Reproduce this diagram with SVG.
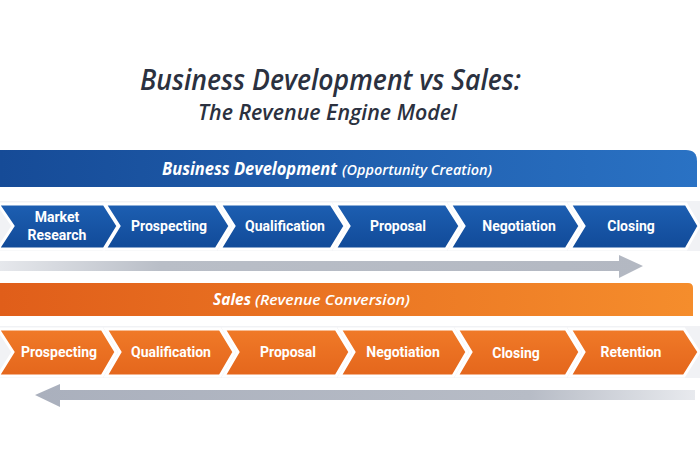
<svg xmlns="http://www.w3.org/2000/svg" width="700" height="450" viewBox="0 0 700 450">
<defs>
<linearGradient id="blueBar" x1="0" y1="0" x2="1" y2="0"><stop offset="0" stop-color="#164b97"/><stop offset="1" stop-color="#2a72c4"/></linearGradient>
<linearGradient id="orangeBar" x1="0" y1="0" x2="1" y2="0"><stop offset="0" stop-color="#e05e1a"/><stop offset="1" stop-color="#f58d2c"/></linearGradient>
<linearGradient id="blueChev" x1="0" y1="0" x2="0" y2="1"><stop offset="0" stop-color="#1d5fb2"/><stop offset="1" stop-color="#114a98"/></linearGradient>
<linearGradient id="orangeChev" x1="0" y1="0" x2="0" y2="1"><stop offset="0" stop-color="#f07a28"/><stop offset="1" stop-color="#e4661c"/></linearGradient>
<linearGradient id="grayR" x1="0" y1="0" x2="1" y2="0"><stop offset="0" stop-color="#e6e8ec"/><stop offset="0.25" stop-color="#b9bec7"/><stop offset="1" stop-color="#b3b8c2"/></linearGradient>
<linearGradient id="grayL" x1="0" y1="0" x2="1" y2="0"><stop offset="0" stop-color="#aab0bd"/><stop offset="0.75" stop-color="#b7bcc6"/><stop offset="1" stop-color="#e8eaee"/></linearGradient>
</defs>
<style>
.title{font-family:"Open Sans","Liberation Sans",sans-serif;font-style:italic;fill:#2b3140}
.hdr{font-family:"Open Sans","Liberation Sans",sans-serif;font-style:italic;fill:#ffffff}
.lbl{font-family:Roboto,"Liberation Sans",sans-serif;font-weight:bold;font-size:14px;fill:#ffffff;text-anchor:middle}
.blue{fill:url(#blueChev);stroke:#ffffff;stroke-width:3;stroke-linejoin:miter}
.orange{fill:url(#orangeChev);stroke:#ffffff;stroke-width:3;stroke-linejoin:miter}
.band{fill:#f1f2f5}
</style>
<rect width="700" height="450" fill="#ffffff"/>

<g id="title">
<text class="title" x="140" y="90" font-size="28" font-weight="600" textLength="381" lengthAdjust="spacingAndGlyphs">Business Development vs Sales:</text>
<text class="title" x="198" y="120" font-size="22" font-weight="600" textLength="259" lengthAdjust="spacingAndGlyphs">The Revenue Engine Model</text>
</g>

<g id="bd-header">
<path d="M0,150 H686 Q697,150 697,161 V187 H0 Z" fill="url(#blueBar)"/>
<text class="hdr" x="162" y="175" font-size="17" font-weight="bold" textLength="175" lengthAdjust="spacingAndGlyphs">Business Development</text>
<text class="hdr" x="342" y="175" font-size="14" font-weight="600" textLength="150" lengthAdjust="spacingAndGlyphs">(Opportunity Creation)</text>
</g>

<rect class="band" x="0" y="201" width="700" height="50"/>

<g id="bd-market-research">
<polygon class="blue" points="-2,204 104,204 118,226 104,249 -2,249 13,226"/>
<text class="lbl" x="57" y="222">Market</text>
<text class="lbl" x="57" y="240">Research</text>
</g>
<g id="bd-prospecting">
<polygon class="blue" points="105,204 216,204 230,226 216,249 105,249 119,226"/>
<text class="lbl" x="169" y="231">Prospecting</text>
</g>
<g id="bd-qualification">
<polygon class="blue" points="220,204 331,204 345,226 331,249 220,249 234,226"/>
<text class="lbl" x="285" y="231">Qualification</text>
</g>
<g id="bd-proposal">
<polygon class="blue" points="335,204 446,204 460,226 446,249 335,249 349,226"/>
<text class="lbl" x="398" y="231">Proposal</text>
</g>
<g id="bd-negotiation">
<polygon class="blue" points="450,204 566,204 580,226 566,249 450,249 464,226"/>
<text class="lbl" x="519" y="231">Negotiation</text>
</g>
<g id="bd-closing">
<polygon class="blue" points="570,204 686,204 699,226 686,249 570,249 584,226"/>
<text class="lbl" x="631" y="231">Closing</text>
</g>

<g id="sales-header">
<path d="M0,283 H688 Q693,283 693,288 V316 H0 Z" fill="url(#orangeBar)"/>
<text class="hdr" x="213" y="305" font-size="16" font-weight="bold" textLength="38" lengthAdjust="spacingAndGlyphs">Sales</text>
<text class="hdr" x="255" y="305" font-size="15" font-weight="600" textLength="155" lengthAdjust="spacingAndGlyphs">(Revenue Conversion)</text>
</g>

<rect class="band" x="0" y="326" width="700" height="52"/>

<g id="s-prospecting">
<polygon class="orange" points="-2,329 102,329 116,352 102,376 -2,376 13,352"/>
<text class="lbl" x="59" y="357">Prospecting</text>
</g>
<g id="s-qualification">
<polygon class="orange" points="106,329 220,329 234,352 220,376 106,376 120,352"/>
<text class="lbl" x="171" y="357">Qualification</text>
</g>
<g id="s-proposal">
<polygon class="orange" points="224,329 336,329 350,352 336,376 224,376 238,352"/>
<text class="lbl" x="288" y="357">Proposal</text>
</g>
<g id="s-negotiation">
<polygon class="orange" points="340,329 453,329 467,352 453,376 340,376 354,352"/>
<text class="lbl" x="403" y="357">Negotiation</text>
</g>
<g id="s-closing">
<polygon class="orange" points="457,329 566,329 580,352 566,376 457,376 471,352"/>
<text class="lbl" x="516" y="358" font-size="16">Closing</text>
</g>
<g id="s-retention">
<polygon class="orange" points="570,329 684,329 699,352 684,376 570,376 584,352"/>
<text class="lbl" x="631" y="357">Retention</text>
</g>

<g id="connectors">
<path d="M0,261 H619 V255 L643,266 L619,278 V271 H0 Z" fill="url(#grayR)"/>
<path d="M695,390 H60 V384 L35,395 L60,407 V400 H695 Z" fill="url(#grayL)"/>
</g>
</svg>
